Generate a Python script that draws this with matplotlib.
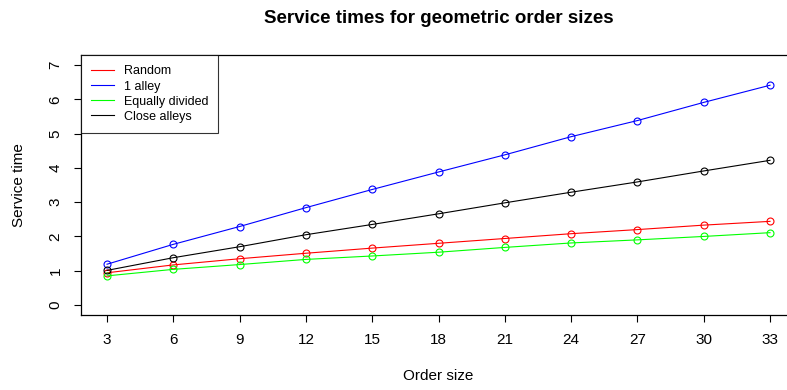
import matplotlib
matplotlib.use("Agg")
import matplotlib.pyplot as plt
import numpy as np

plt.rcParams['font.family'] = ['Liberation Sans', 'DejaVu Sans']

order_size = [3, 6, 9, 12, 15, 18, 21, 24, 27, 30, 33]
random_t = [0.94, 1.17, 1.35, 1.51, 1.66, 1.80, 1.94, 2.08, 2.20, 2.33, 2.44]
one_alley = [1.19, 1.77, 2.29, 2.84, 3.37, 3.88, 4.38, 4.91, 5.38, 5.91, 6.41]
equally_divided = [0.85, 1.04, 1.18, 1.33, 1.43, 1.54, 1.68, 1.81, 1.90, 2.00, 2.11]
close_alleys = [1.01, 1.38, 1.70, 2.05, 2.35, 2.66, 2.98, 3.29, 3.59, 3.91, 4.22]

series = [("Random", random_t, "#FF0000"),
          ("1 alley", one_alley, "#0000FF"),
          ("Equally divided", equally_divided, "#00FF00"),
          ("Close alleys", close_alleys, "black")]

fig = plt.figure(figsize=(7.87, 3.9), dpi=100)
ax = fig.add_axes([0.1023, 0.1933, 0.9098, 0.6646])

for name, vals, col in series:
    ax.plot(order_size, vals, color=col, lw=0.8, marker='o', ms=5,
            mfc='none', mec=col, mew=0.8, label=name)

ax.set_xlim(1.8, 34.2)
ax.set_ylim(-0.28, 7.28)
ax.set_xticks(order_size)
ax.set_yticks(range(0, 8))
ax.tick_params(direction='out', length=5, width=0.8, labelsize=11, pad=8)
ax.tick_params(axis='y', labelrotation=90)
for lab in ax.get_yticklabels():
    lab.set_va('center')
for sp in ax.spines.values():
    sp.set_linewidth(0.9)

ax.set_title("Service times for geometric order sizes", fontsize=13.5,
             fontweight='bold', pad=23)
ax.set_xlabel("Order size", fontsize=11, labelpad=16)
ax.set_ylabel("Service time", fontsize=11, labelpad=16)

leg = ax.legend(loc='upper left', fontsize=9, frameon=True, fancybox=False,
                edgecolor='black', handlelength=1.9, handletextpad=0.75,
                borderaxespad=0, labelspacing=0.25, borderpad=0.8)
for h in leg.legend_handles:
    h.set_marker('')
leg.get_frame().set_linewidth(0.8)

fig.savefig("out.png", dpi=100)
